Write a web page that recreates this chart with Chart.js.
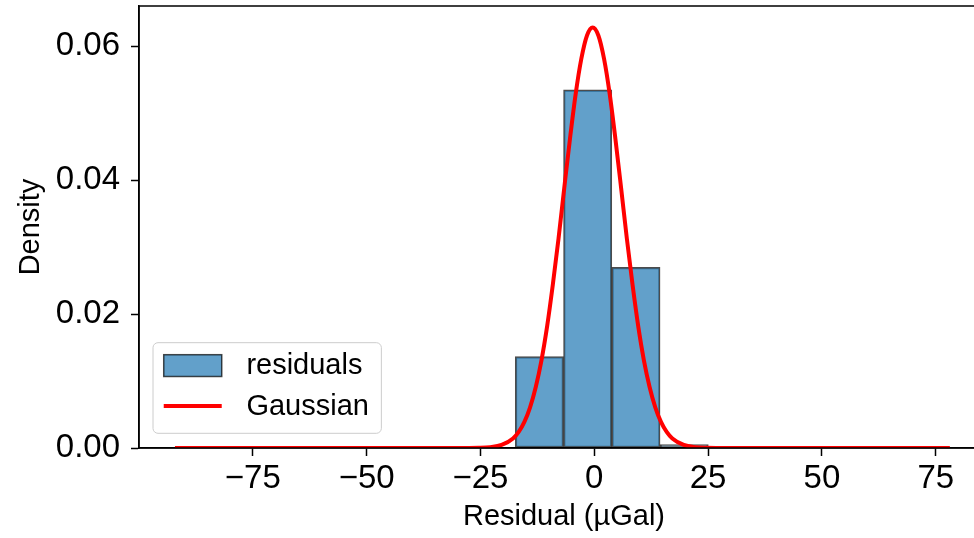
<!DOCTYPE html>
<html>
<head>
<meta charset="utf-8">
<script src="https://cdn.jsdelivr.net/npm/chart.js@4"></script>
<style>
  html, body { margin: 0; padding: 0; background: #fff; overflow: hidden; }
  #wrap { position: relative; width: 990px; height: 538px; }
</style>
</head>
<body>
<div id="wrap"><canvas id="hist"></canvas></div>
<script>
// histogram: bin centres (µGal) and density of each bin
const binCenters = [-12.05, -1.45, 9.15, 19.75];
const binDensity = [0.01364, 0.05348, 0.02696, 0.00052];

// Gaussian fit, points
const gaussX = [-92.1, -30.35, -25.35, -22.85, -20.35, -17.85, -16.6, -15.35, -14.1, -12.85,
                -11.6, -10.35, -9.1, -7.85, -6.6, -5.35, -4.1, -2.85, -1.6, -0.35,
                0.9, 2.15, 3.4, 4.65, 5.9, 7.15, 8.4, 9.65, 10.9, 12.15,
                13.4, 14.65, 15.9, 17.15, 19.65, 22.15, 24.65, 29.65, 78.1];
const gaussY = [0, 0, 0.00003, 0.00012, 0.00045, 0.00142, 0.0024, 0.00389, 0.00607, 0.00911,
                0.0131, 0.0182, 0.0244, 0.0313, 0.0388, 0.0461, 0.0528, 0.0581, 0.0616, 0.0628,
                0.0616, 0.0581, 0.0528, 0.0461, 0.0388, 0.0313, 0.0244, 0.0182, 0.0131, 0.00911,
                0.00607, 0.00389, 0.0024, 0.00142, 0.00045, 0.00012, 0.00003, 0, 0];

const xTicks = [-75, -50, -25, 0, 25, 50, 75];
const yTicks = [0, 0.02, 0.04, 0.06];

const FONT = '"Liberation Sans", Arial, Helvetica, sans-serif';
Chart.defaults.font.family = FONT;
Chart.defaults.color = '#000';

// top/right spines plus the matplotlib-style legend in the lower left
const frameAndLegend = {
    id: 'frameAndLegend',
    afterDatasetsDraw(chart) {
        const ctx = chart.ctx;
        const a = chart.chartArea;
        ctx.save();
        ctx.strokeStyle = '#000';
        ctx.lineWidth = 1.5;
        ctx.strokeRect(a.left, a.top, a.right - a.left, a.bottom - a.top);

        const fs = 29;
        ctx.font = fs + 'px ' + FONT;
        const ds = chart.data.datasets;
        const textW = Math.max(...ds.map(d => ctx.measureText(d.label).width));
        const w = 0.4 * fs + 2 * fs + 0.85 * fs + textW + 0.4 * fs;
        const h = 90.6;
        const bx = a.left + 14;
        const by = a.bottom - 14.7 - h;

        ctx.beginPath();
        ctx.roundRect(bx, by, w, h, 5);
        ctx.fillStyle = 'rgba(255,255,255,0.8)';
        ctx.fill();
        ctx.strokeStyle = '#cccccc';
        ctx.lineWidth = 1;
        ctx.stroke();

        const hx = bx + 0.37 * fs;
        const tx = hx + 2 * fs + 0.85 * fs;
        const rows = [by + 23.4, by + 64];

        // bar patch
        ctx.fillStyle = ds[0].backgroundColor;
        ctx.fillRect(hx, rows[0] - 11.4, 2 * fs, 21.8);
        ctx.strokeStyle = ds[0].borderColor;
        ctx.lineWidth = 1.5;
        ctx.strokeRect(hx, rows[0] - 11.4, 2 * fs, 21.8);
        // line handle
        ctx.beginPath();
        ctx.moveTo(hx, rows[1] - 0.6);
        ctx.lineTo(hx + 2 * fs, rows[1] - 0.6);
        ctx.strokeStyle = ds[1].borderColor;
        ctx.lineWidth = ds[1].borderWidth;
        ctx.stroke();

        ctx.fillStyle = '#000';
        ctx.textAlign = 'left';
        ctx.textBaseline = 'middle';
        ds.forEach((d, i) => ctx.fillText(d.label, tx, rows[i]));
        ctx.restore();
    }
};

const ctx = document.getElementById('hist').getContext('2d');
new Chart(ctx, {
    type: 'bar',
    data: {
        datasets: [{
            type: 'bar',
            label: 'residuals',
            data: binCenters.map((x, i) => ({ x: x, y: binDensity[i] })),
            backgroundColor: 'rgba(31,119,180,0.7)',
            borderColor: 'rgba(0,0,0,0.7)',
            borderWidth: 1.5,
            borderSkipped: false,
            barPercentage: 1,
            categoryPercentage: 1,
            order: 2
        }, {
            type: 'line',
            label: 'Gaussian',
            data: gaussX.map((x, i) => ({ x: x, y: gaussY[i] })),
            borderColor: '#ff0000',
            borderWidth: 4,
            pointRadius: 0,
            fill: false,
            cubicInterpolationMode: 'monotone',
            clip: 0,
            order: 1
        }]
    },
    options: {
        responsive: true,
        maintainAspectRatio: false,
        animation: false,
        layout: { autoPadding: false, padding: { top: 6, right: 1, bottom: 0, left: 0 } },
        plugins: { legend: { display: false }, tooltip: { enabled: false } },
        scales: {
            x: {
                type: 'linear',
                min: -100,
                max: 86.7,
                offset: false,
                afterBuildTicks: s => { s.ticks = xTicks.map(v => ({ value: v })); },
                afterFit: s => { s.height = 90; s.paddingLeft = 0; s.paddingRight = 0; },
                ticks: {
                    autoSkip: false,
                    maxRotation: 0,
                    padding: 3,
                    color: '#000',
                    font: { size: 33 },
                    callback: v => v < 0 ? '\u2212' + Math.abs(v) : String(v)
                },
                grid: { drawOnChartArea: false, offset: false, tickLength: 8, tickColor: '#000', tickWidth: 1.5 },
                border: { color: '#000', width: 1.5 },
                title: {
                    display: true,
                    text: 'Residual (µGal)',
                    color: '#000',
                    font: { size: 29 },
                    padding: { top: 0, bottom: 4 }
                }
            },
            y: {
                min: 0,
                max: 0.066,
                afterBuildTicks: s => { s.ticks = yTicks.map(v => ({ value: v })); },
                afterFit: s => { s.width = 139; s.paddingTop = 0; s.paddingBottom = 0; },
                ticks: {
                    padding: 11,
                    color: '#000',
                    font: { size: 33 },
                    callback: v => v.toFixed(2)
                },
                grid: { drawOnChartArea: false, tickLength: 8, tickColor: '#000', tickWidth: 1.5 },
                border: { color: '#000', width: 1.5 },
                title: {
                    display: true,
                    text: 'Density',
                    color: '#000',
                    font: { size: 29 },
                    padding: { top: 14, bottom: 0 }
                }
            }
        }
    },
    plugins: [frameAndLegend]
});
</script>
</body>
</html>
